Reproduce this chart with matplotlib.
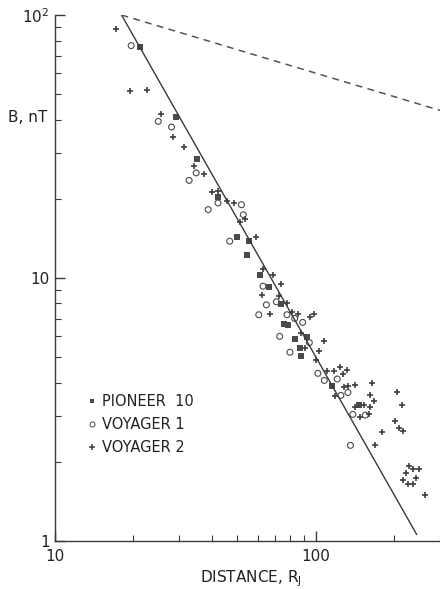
import matplotlib.pyplot as plt
from matplotlib.lines import Line2D
from matplotlib.ticker import FixedLocator, LogLocator, NullFormatter

plt.rcParams['font.family'] = ['DejaVu Sans']
plt.rcParams['mathtext.default'] = 'regular'

# Pioneer 10 (squares)
p10_r = [21.2, 29.0, 35.0, 42.2, 50.1, 55.5, 54.4, 61.0, 66.1, 73.6, 75.6,
         78.6, 83.1, 92.9, 87.0, 88.1, 116, 147]
p10_b = [75.6, 41.1, 28.3, 20.3, 14.3, 13.8, 12.2, 10.3, 9.23, 7.93, 6.66,
         6.62, 5.86, 5.96, 5.41, 5.07, 3.88, 3.28]

# Voyager 1 (open circles)
v1_r = [19.6, 24.9, 28.0, 34.8, 32.7, 42.2, 38.7, 51.9, 52.8, 46.8, 62.8,
        70.7, 64.7, 60.5, 77.6, 83.1, 89.2, 72.8, 94.6, 79.7, 102, 108,
        121, 125, 133, 139, 155, 136]
v1_b = [76.5, 39.4, 37.5, 25.1, 23.5, 19.3, 18.2, 19.0, 17.4, 13.8, 9.31,
        8.12, 7.91, 7.25, 7.25, 7.02, 6.78, 6.00, 5.68, 5.22, 4.34, 4.08,
        4.13, 3.58, 3.67, 3.03, 3.01, 2.31]

# Voyager 2 (plus signs)
v2_r = [17.2, 19.4, 22.6, 25.5, 28.3, 31.2, 34.2, 37.2, 40.1, 42.2, 45.7,
        48.8, 53.5, 51.2, 58.9, 63.0, 68.4, 73.4, 62.1, 72.3, 77.6, 66.6,
        81.4, 85.5, 94.8, 98.2, 87.8, 108, 90.8, 103, 100, 111, 118, 124,
        132, 127, 128, 133, 141, 119, 164, 162, 167, 141, 153, 161, 148,
        160, 206, 214, 201, 209, 216, 180, 169, 229, 237, 249, 223, 243,
        216, 226, 236, 262]
v2_b = [88.5, 51.3, 51.9, 42.1, 34.4, 31.6, 26.6, 24.9, 21.2, 21.5, 19.6,
        19.3, 16.8, 16.3, 14.3, 10.8, 10.3, 9.45, 8.64, 8.51, 8.05, 7.29,
        7.44, 7.31, 7.10, 7.31, 6.16, 5.78, 5.40, 5.29, 4.88, 4.42, 4.42, 4.59,
        4.48, 4.30, 3.84, 3.90, 3.93, 3.55, 4.00, 3.60, 3.41, 3.23, 3.28, 3.23,
        2.95, 3.03, 3.67, 3.28, 2.86, 2.68, 2.62, 2.60, 2.31, 1.93, 1.88, 1.88,
        1.82, 1.74, 1.71, 1.65, 1.65, 1.50]

# model lines
fit_r = [18.0, 244]
fit_b = [100, 1.06]
dash_r = [18.0, 300]
dash_b = [100, 43.4]

ink = '#3a3a3a'

fig = plt.figure(figsize=(4.4, 5.89), dpi=100)
ax = fig.add_axes([0.125, 0.0815, 0.875, 0.893])
ax.set_xscale('log')
ax.set_yscale('log')
ax.set_xlim(10, 300)
ax.set_ylim(1, 100)

ax.plot(fit_r, fit_b, color=ink, lw=1.0)
ax.plot(dash_r, dash_b, color='#555555', lw=1.1, dashes=(4.5, 3.5))

ax.scatter(p10_r, p10_b, marker='s', s=15, color='#4a4a4a', lw=0)
ax.scatter(v1_r, v1_b, marker='o', s=18, facecolors='none',
           edgecolors='#4a4a4a', lw=0.8)
ax.scatter(v2_r, v2_b, marker='+', s=16, color='#3f3f3f', lw=1.2)

for side in ['top', 'right']:
    ax.spines[side].set_visible(False)
for side in ['left', 'bottom']:
    ax.spines[side].set_color(ink)
    ax.spines[side].set_linewidth(1.0)

ax.yaxis.set_major_locator(FixedLocator([1, 10, 100]))
ax.set_yticklabels(['1', '10', '$10^2$'])
ax.xaxis.set_major_locator(FixedLocator([10, 100]))
ax.set_xticklabels(['10', '100'])
ax.xaxis.set_minor_locator(LogLocator(base=10, subs=range(2, 10)))
ax.yaxis.set_minor_locator(LogLocator(base=10, subs=range(2, 10)))
ax.xaxis.set_minor_formatter(NullFormatter())
ax.yaxis.set_minor_formatter(NullFormatter())
ax.tick_params(which='both', direction='in', color=ink, labelsize=11,
               labelcolor='#222222')
ax.tick_params(which='major', length=7, width=1.0)
ax.tick_params(which='minor', length=4, width=0.8)
ax.tick_params(axis='y', pad=4)
ax.tick_params(axis='x', pad=6)

ax.set_xlabel('DISTANCE, R$_J$', fontsize=11, color='#222222')
ax.xaxis.set_label_coords(0.51, -0.052)
ax.set_ylabel('B, nT', fontsize=11, rotation=0, color='#222222')
ax.yaxis.set_label_coords(-0.07, 0.79)

handles = [
    Line2D([], [], ls='none', marker='s', ms=3.2, color='#4a4a4a', mew=0),
    Line2D([], [], ls='none', marker='o', ms=3.6, mfc='none', mec='#4a4a4a', mew=0.7),
    Line2D([], [], ls='none', marker='+', ms=4.5, color='#3f3f3f', mew=1.1),
]
ax.legend(handles, ['PIONEER  10', 'VOYAGER 1', 'VOYAGER 2'],
          loc='upper left', bbox_to_anchor=(0.065, 0.293), frameon=False,
          fontsize=10.5, handlelength=0.6, handletextpad=0.4,
          labelspacing=0.55, borderpad=0, labelcolor='#222222')

plt.savefig('out.png', dpi=100)
plt.close()
